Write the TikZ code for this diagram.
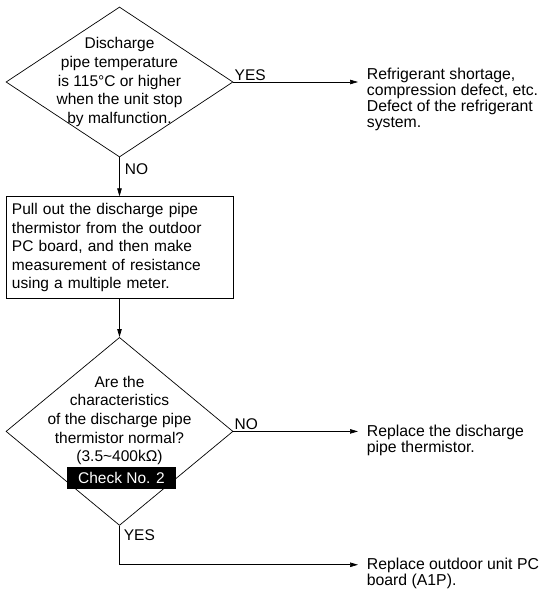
\documentclass[tikz,border=0pt]{standalone}
\usepackage{fontspec}
\setmainfont{Liberation Sans}
\usepackage{tikz}
\usetikzlibrary{positioning, arrows.meta, shapes.geometric, calc}

\begin{document}
\begin{tikzpicture}[
  x=1pt, y=-1pt,
  line width=0.7pt,
  font=\fontsize{15.5}{18.6}\selectfont,
  decision/.style={draw, diamond, minimum width=227pt, minimum height=150pt,
    inner sep=0pt},
  dtext/.style={align=center, inner sep=0pt},
  proc/.style={draw, minimum width=227pt, minimum height=102pt,
    text width=215pt, inner xsep=6pt, align=left,
    font=\fontsize{15.5}{18.5}\selectfont},
  result/.style={anchor=north west, align=left, inner ysep=0pt,
    inner xsep=8.5pt, font=\fontsize{15.8}{16}\selectfont},
  check/.style={fill=black, text=white, minimum width=109pt,
    minimum height=22pt, inner sep=0pt},
  lbl/.style={inner sep=1pt, font=\fontsize{15.5}{16}\selectfont},
  arrow/.style={-{Triangle[length=8pt, width=4.5pt]}},
]
  \useasboundingbox (0,0) rectangle (543,589);

  % First check: discharge pipe temperature
  \node[decision] (d1) at (119.5, 82) {};
  \node[dtext] (q1) at (d1.center) {Discharge\\pipe temperature\\is 115°C or higher\\when the unit stop\\by malfunction.};

  % Measurement step
  \node[proc, below=39pt of d1] (meas) {Pull out the discharge pipe\\thermistor from the outdoor\\PC board, and then make\\measurement of resistance\\using a multiple meter.};

  % Second check: thermistor characteristics
  \node[decision, minimum height=188pt, below=38pt of meas] (d2) {};
  \node[dtext] (q2) at ([yshift=11pt]d2.center) {Are the\\characteristics\\of the discharge pipe\\thermistor normal?\\(3.5\textasciitilde 400kΩ)};
  \node[check] (chk2) at (121.5, 478) {Check No. 2};

  % Results
  \node[result] (r1) at (358, 67.5) {Refrigerant shortage,\\compression defect, etc.\\Defect of the refrigerant\\system.};
  \node[result] (r2) at (358, 424.5) {Replace the discharge\\pipe thermistor.};
  \node[result] (r3) at (358, 557.5) {Replace outdoor unit PC\\board (A1P).};

  \draw[arrow] (d1.east) -- (d1.east -| r1.west)
    node[lbl, pos=0, anchor=south west] {YES};
  \draw[arrow] (d1.south) -- (meas.north)
    node[lbl, pos=0, anchor=north west, xshift=4pt, yshift=-5pt] {NO};
  \draw[arrow] (meas.south) -- (d2.north);
  \draw[arrow] (d2.east) -- (d2.east -| r2.west)
    node[lbl, pos=0, anchor=south west] {NO};
  \coordinate (turn) at ($(d2.south)+(0,39)$);
  \draw[arrow] (d2.south) -- (turn) -- (turn -| r3.west);
  \node[lbl, anchor=north west, xshift=3pt, yshift=-3pt] (yes2) at (d2.south) {YES};
\end{tikzpicture}
\end{document}
